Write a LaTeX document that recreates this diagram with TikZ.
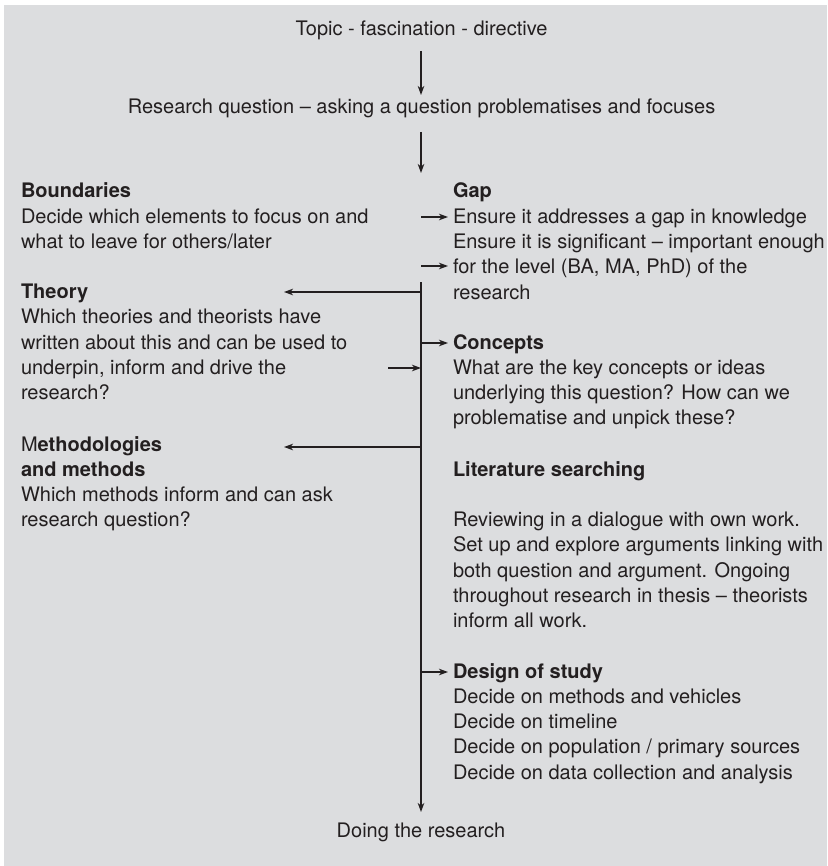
\documentclass[tikz,border=0pt]{standalone}
\usepackage{fontspec}
\setmainfont{TeX Gyre Heros}
\usetikzlibrary{arrows.meta}
\definecolor{bg}{HTML}{DCDDDF}
\definecolor{ink}{HTML}{231F20}
\begin{document}
\begin{tikzpicture}[x=1pt,y=-1pt,
  txt/.style={inner sep=0pt, outer sep=0pt, text=ink, font=\fontsize{20}{25.25}\selectfont, align=left, anchor=base west},
  ctr/.style={inner sep=0pt, outer sep=0pt, text=ink, font=\fontsize{20}{25.25}\selectfont, anchor=base},
  ln/.style={draw=ink, line width=1.1pt},
  arr/.style={ln, -{Stealth[length=9pt,width=6.5pt,inset=2.5pt]}}]
\useasboundingbox (0,0) rectangle (827,866);
\fill[bg] (4,5) rectangle (827,866);

% centre line texts
\node[ctr] (topic) at (421.5,36) {Topic - fascination - directive};
\node[ctr] (rq) at (421.5,114) {Research question -- asking a question problematises and focuses};
\node[ctr] (doing) at (421,837) {Doing the research};

% left column (node base = baseline of last line)
\node[txt] (bound) at (21,248.5) {\textbf{Boundaries}\\Decide which elements to focus on and\\what to leave for others/later};
\node[txt] (theory) at (21,399.5) {\textbf{Theory}\\Which theories and theorists have\\written about this and can be used to\\underpin, inform and drive the\\research?};
\node[txt] (meth) at (21,526.75) {M\textbf{ethodologies}\\\textbf{and methods}\\Which methods inform and can ask\\research question?};

% right column
\node[txt] (gap) at (453,299) {\textbf{Gap}\\Ensure it addresses a gap in knowledge\\Ensure it is significant -- important enough\\for the level (BA, MA, PhD) of the\\research};
\node[txt] (concepts) at (453,424.75) {\textbf{Concepts}\\What are the key concepts or ideas\\underlying this question? How can we\\problematise and unpick these?};
\node[txt] (lit) at (453,627.5) {\textbf{Literature searching}\\\strut\\Reviewing in a dialogue with own work.\\Set up and explore arguments linking with\\both question and argument. Ongoing\\throughout research in thesis -- theorists\\inform all work.};
\node[txt] (design) at (453,779) {\textbf{Design of study}\\Decide on methods and vehicles\\Decide on timeline\\Decide on population / primary sources\\Decide on data collection and analysis};

% spine coordinates
\coordinate (sp0) at (421,282);
\coordinate (spT) at (421,292);
\coordinate (spC) at (421,343);
\coordinate (spI) at (421,368);
\coordinate (spM) at (421,447);
\coordinate (spD) at (421,672);
\coordinate (spB) at (421,812);
\coordinate (g1s) at (421,217);
\coordinate (g2s) at (421,266);
\coordinate (inS) at (388,368);
\coordinate (thE) at (284,292);
\coordinate (mE) at (284,447);
\coordinate (g1e) at (448,217);
\coordinate (g2e) at (448,266);
\coordinate (cE) at (448,343);
\coordinate (dE) at (448,672);
\coordinate (a1s) at (421,51);
\coordinate (a1e) at (421,95);
\coordinate (a2s) at (421,132);
\coordinate (a2e) at (421,173);

% connectors
\draw[arr] (a1s) -- (a1e);
\draw[arr] (a2s) -- (a2e);
\draw[arr] (g1s) -- (g1e);
\draw[arr] (g2s) -- (g2e);
\draw[arr] (sp0) -- (spB);
\draw[arr] (spT) -- (thE);
\draw[arr] (spC) -- (cE);
\draw[arr] (inS) -- (spI);
\draw[arr] (spM) -- (mE);
\draw[arr] (spD) -- (dE);
\end{tikzpicture}
\end{document}
